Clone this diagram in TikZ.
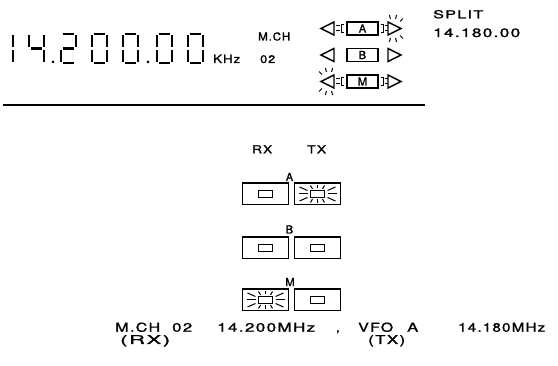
\documentclass[tikz,border=0pt]{standalone}
\usepackage{fontspec}
\usepackage{graphicx}
\newfontfamily\lcd[LetterSpace=8,FakeBold=1.2]{TeX Gyre Heros}
\newcommand\tw[2]{\resizebox{#1pt}{\height}{#2}}
% seven segment pieces, #1 = left x of digit
\newcommand\sgA[1]{\draw[seg] ({#1+1.6},34) -- ({#1+13.4},34);}
\newcommand\sgB[1]{\draw[seg] ({#1+15},35.3) -- ({#1+15},47.4);}
\newcommand\sgC[1]{\draw[seg] ({#1+15},49.6) -- ({#1+15},61.7);}
\newcommand\sgD[1]{\draw[seg] ({#1+1.6},63) -- ({#1+13.4},63);}
\newcommand\sgE[1]{\draw[seg] ({#1},49.6) -- ({#1},61.7);}
\newcommand\sgF[1]{\draw[seg] ({#1},35.3) -- ({#1},47.4);}
\newcommand\sgG[1]{\draw[seg] ({#1+1.6},48.5) -- ({#1+13.4},48.5);}
\newcommand\dgone[1]{\sgB{#1}\sgC{#1}}
\newcommand\dgfour[1]{\sgF{#1}\sgG{#1}\sgB{#1}\sgC{#1}}
\newcommand\dgtwo[1]{\sgA{#1}\sgB{#1}\sgG{#1}\sgE{#1}\sgD{#1}}
\newcommand\dgzero[1]{\sgA{#1}\sgB{#1}\sgC{#1}\sgD{#1}\sgE{#1}\sgF{#1}}
% flashing rays around an inner lamp, #1,#2 = centre
\newcommand\lampflash[2]{%
  \begin{scope}[shift={(#1,#2)}]
    \draw[ray] (10,0) -- (19,0);
    \draw[ray] (-10,0) -- (-19,0);
    \draw[ray] (10,-3.5) -- (18,-7);
    \draw[ray] (-10,-3.5) -- (-18,-7);
    \draw[ray] (10,3.5) -- (18,7);
    \draw[ray] (-10,3.5) -- (-18,7);
    \draw[ray] (-5,-5) -- (-7,-8.5);
    \draw[ray] (0,-5.5) -- (0,-9);
    \draw[ray] (5,-5) -- (7,-8.5);
    \draw[ray] (-5,5) -- (-7,8.5);
    \draw[ray] (0,5.5) -- (0,9);
    \draw[ray] (5,5) -- (7,8.5);
  \end{scope}}
% rays around a triangle, #1,#2 centre, #3 = 1 right / -1 left
\newcommand\triflash[3]{%
  \begin{scope}[shift={(#1,#2)}, xscale=#3]
    \foreach \an in {-105,-75,-45,45,75,105}
      \draw[ray] (\an:10) -- (\an:14);
  \end{scope}}
% connector pieces between triangle and box; #1 = centre y
\newcommand\leftlink[1]{%
  \draw[ray] (336,{#1-2.5}) -- (339.5,{#1-2.5});
  \draw[ray] (336,{#1+2.5}) -- (339.5,{#1+2.5});
  \draw[ray] (344,{#1-4}) -- (341.5,{#1-4}) -- (341.5,{#1+4}) -- (344,{#1+4});}
\newcommand\rightlink[1]{%
  \draw[ray] (380.5,{#1-4}) -- (383,{#1-4}) -- (383,{#1+4}) -- (380.5,{#1+4});
  \draw[ray] (384.5,{#1-2.5}) -- (387.5,{#1-2.5});
  \draw[ray] (384.5,{#1+2.5}) -- (387.5,{#1+2.5});}
\begin{document}
\begin{tikzpicture}[x=1pt,y=-1pt,
  seg/.style={line width=2.3pt},
  frame/.style={draw, line width=1.5pt, inner sep=0pt},
  smallbox/.style={frame, minimum width=31pt, minimum height=13pt, font={\lcd\fontsize{11}{12}\selectfont}},
  keybox/.style={frame, minimum width=46pt, minimum height=21.5pt},
  lamp/.style={draw, line width=1.3pt, inner sep=0pt, minimum width=14pt, minimum height=6.5pt},
  ray/.style={line width=1pt},
  tri/.style={line width=1.4pt, line join=miter},
  txt/.style={inner sep=0pt, anchor=base west},
  lbl/.style={inner sep=0pt, anchor=base},
  bigf/.style={font={\lcd\fontsize{12.2}{14}\selectfont}},
  midf/.style={font={\lcd\fontsize{11.4}{12}\selectfont}},
  smf/.style={font={\lcd\fontsize{11}{12}\selectfont}},
]
\useasboundingbox (0,0) rectangle (558,366);
\fill[white] (0,0) rectangle (558,366);

% ---------- seven segment frequency 14.200.00
\dgone{-2}
\dgfour{29}
\fill (53,62) circle (1.5);
\dgtwo{61}
\dgzero{92}
\dgzero{123}
\fill (148,62) circle (1.5);
\dgzero{157}
\dgzero{188}

\node[txt, midf] (khz) at (213,63) {\tw{27}{KHz}};
\node[txt, smf] (mch) at (258,40.5) {\tw{32}{M.CH}};
\node[txt, smf] (mchno) at (260,63) {\tw{15}{02}};

% ---------- VFO indicators
\node[smallbox] (ia) at (362.5,28.5) {A};
\node[smallbox] (ib) at (362.5,55) {B};
\node[smallbox] (im) at (362.5,81.5) {M};
% row A
\draw[tri] (334,22) -- (321,28.5) -- (334,35) -- cycle;
\draw[tri] (388,22) -- (401,28.5) -- (388,35) -- cycle;
\leftlink{28.5}
\rightlink{28.5}
\triflash{393}{28.5}{1}
% row B
\draw[tri] (334,48.5) -- (321,55) -- (334,61.5) -- cycle;
\draw[tri] (388,48.5) -- (401,55) -- (388,61.5) -- cycle;
% row M
\draw[tri] (334,75) -- (321,81.5) -- (334,88) -- cycle;
\draw[tri] (388,75) -- (401,81.5) -- (388,88) -- cycle;
\leftlink{81.5}
\rightlink{81.5}
\triflash{329}{81.5}{-1}

\node[txt, smf] (split) at (433,18.3) {\tw{50}{SPLIT}};
\node[txt, bigf] (splitf) at (433,37) {\tw{87}{14.180.00}};

% ---------- rule
\draw[line width=1.8pt] (3,105) -- (425,105);

% ---------- keys
\node[txt, smf] (rx) at (252,153.3) {\tw{20}{RX}};
\node[txt, smf] (tx) at (307,153.3) {\tw{19}{TX}};

\node[keybox] (ka1) at (265.5,194) {};
\node[keybox] (ka2) at (317.5,194) {};
\node[keybox] (kb1) at (265.5,248) {};
\node[keybox] (kb2) at (317.5,248) {};
\node[keybox] (km1) at (265.5,300) {};
\node[keybox] (km2) at (317.5,300) {};
\foreach \k in {ka1,ka2,kb1,kb2,km1,km2}
  \node[lamp] (l\k) at (\k.center) {};
\lampflash{317.5}{194}
\lampflash{265.5}{300}

\node[lbl, smf] (la) at (289.5,181) {A};
\node[lbl, smf] (lb) at (289.5,233.5) {B};
\node[lbl, smf] (lm) at (290,286) {M};

% ---------- bottom caption
\node[txt, bigf] (c1) at (115,331.7) {\tw{45}{M.CH}};
\node[txt, bigf] (c2) at (172,331.7) {\tw{20}{02}};
\node[txt, bigf] (c3) at (217,331.7) {\tw{98}{14.200MHz}};
\node[txt, bigf] (c4) at (336,331.7) {,};
\node[txt, bigf] (c5) at (358,331.7) {\tw{35}{VFO}};
\node[txt, bigf] (c6) at (407,331.7) {\tw{11}{A}};
\node[txt, bigf] (c7) at (458,331.7) {\tw{87}{14.180MHz}};
\node[txt, bigf] (c8) at (120,344) {\tw{50}{(RX)}};
\node[txt, bigf] (c9) at (368,344) {\tw{37}{(TX)}};
\end{tikzpicture}
\end{document}
